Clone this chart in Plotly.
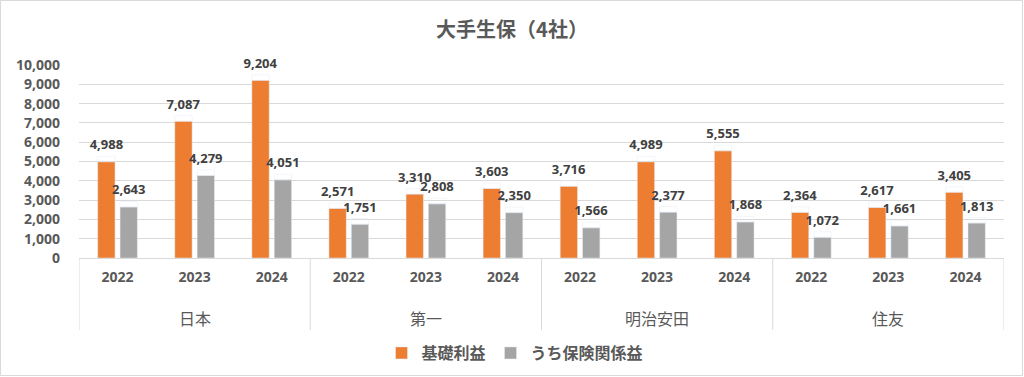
import plotly.graph_objects as go

companies = ["日本", "第一", "明治安田", "住友"]
years = ["2022", "2023", "2024"]
kiso = [4988, 7087, 9204, 2571, 3310, 3603, 3716, 4989, 5555, 2364, 2617, 3405]
hoken = [2643, 4279, 4051, 1751, 2808, 2350, 1566, 2377, 1868, 1072, 1661, 1813]

n_years = len(years)
xpos = list(range(len(companies) * n_years))
tick_text = [y for _ in companies for y in years]

FONT = "Open Sans, Noto Sans CJK JP, sans-serif"
CJK = "Noto Sans CJK JP, sans-serif"
TXT = "#595959"
GRID = "#D9D9D9"

W, H = 1024, 377
L, R, T, B = 79, 20, 65, 119
PW, PH = W - L - R, H - T - B
YMAX = 10000
LABEL_PAD = 5.5 * YMAX / PH  # extra gap between bar top and its data label (in data units)

fig = go.Figure()
for name, vals, col, grp in [("基礎利益", kiso, "#ED7D31", "a"), ("うち保険関係益", hoken, "#A5A5A5", "b")]:
    fig.add_trace(go.Bar(
        x=xpos, y=vals, name=name, marker_color=col, offsetgroup=grp,
    ))
    # transparent spacer bar carrying the data label a little above the bar
    fig.add_trace(go.Bar(
        x=xpos, y=[LABEL_PAD] * len(vals), base=vals, offsetgroup=grp,
        marker_color="rgba(0,0,0,0)", showlegend=False, hoverinfo="skip",
        text=[f"{v:,}" for v in vals], textposition="outside", constraintext="none",
        textfont=dict(family=FONT, size=13, color="#404040", weight="bold"),
        cliponaxis=False,
    ))

fig.update_layout(
    width=W, height=H,
    margin=dict(l=L, r=R, t=T, b=B, autoexpand=False),
    paper_bgcolor="white", plot_bgcolor="white",
    title=dict(text="大手生保（4社）", x=0.5, xanchor="center", y=1 - 30 / H, yref="container", yanchor="middle",
               font=dict(family=CJK, size=20, color=TXT, weight="bold")),
    barmode="group", bargap=0.42, bargroupgap=0.225,
    font=dict(family=FONT, color=TXT),
    legend=dict(orientation="h", x=(515 - L) / PW, xanchor="center", y=-(353 - T - PH) / PH, yanchor="middle",
                font=dict(family=CJK, size=16, color=TXT, weight="bold"),
                itemwidth=30, traceorder="normal"),
    xaxis=dict(range=[-0.5, len(xpos) - 0.5], tickmode="array", tickvals=xpos, ticktext=tick_text,
               tickfont=dict(family=FONT, size=14, color=TXT, weight="bold"),
               ticklabelstandoff=6,
               showline=True, linecolor=GRID, ticks="", showgrid=False, zeroline=False),
    yaxis=dict(range=[0, YMAX], dtick=1000, tickformat=",",
               tickfont=dict(family=FONT, size=14, color=TXT, weight="bold"),
               ticklabelstandoff=18,
               showgrid=True, gridcolor=GRID, zeroline=False, ticks=""),
)

# group dividers and group labels
for i in range(len(companies) + 1):
    xd = i * n_years - 0.5
    fig.add_shape(type="line", xref="x", yref="paper", x0=xd, x1=xd, y0=0, y1=-72 / PH,
                  line=dict(color=GRID, width=1))
for i, c in enumerate(companies):
    fig.add_annotation(x=i * n_years + (n_years - 1) / 2, xref="x", y=-(318 - T - PH) / PH, yref="paper",
                       text=c, showarrow=False, yanchor="middle",
                       font=dict(family=CJK, size=16, color=TXT))

# chart border
fig.add_shape(type="rect", xref="paper", yref="paper",
              x0=-(L - 0.5) / PW, x1=1 + (R - 1.5) / PW,
              y0=-(B - 1.5) / PH, y1=1 + (T - 0.5) / PH,
              line=dict(color=GRID, width=1), fillcolor="rgba(0,0,0,0)")
fig.write_html("out.html", config={"displayModeBar": False},
               post_script="document.body.style.margin='0';")
